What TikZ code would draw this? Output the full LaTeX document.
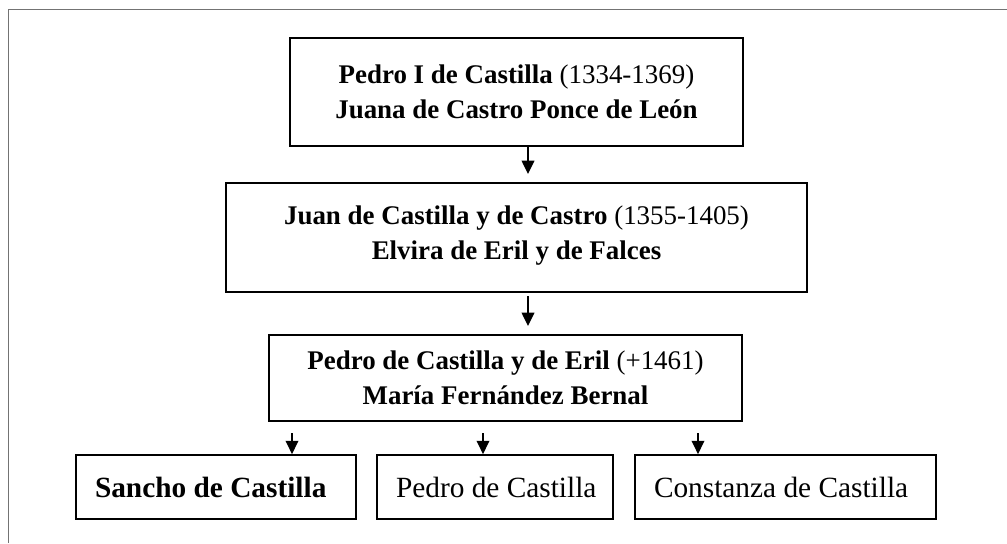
\documentclass[tikz,border=0pt]{standalone}
\usepackage{fontspec}
\setmainfont{Liberation Serif}
\usetikzlibrary{arrows.meta}
\begin{document}
\begin{tikzpicture}[x=0.75pt,y=-0.75pt,
  box/.style={draw=black, line width=1.3pt, inner sep=0pt, align=center,
    font=\fontsize{20.2}{26.3}\selectfont},
  leafbox/.style={box, inner xsep=14.25pt, minimum height=48pt,
    font=\fontsize{22}{26.3}\selectfont},
  arr/.style={line width=1.1pt, -{Triangle[width=9.5pt,length=10pt]}},
  frame/.style={draw=black!55, line width=1pt}]
\useasboundingbox (0,0) rectangle (1007,543);
\draw[frame] (8.5,543) -- (8.5,9.5) -- (1007,9.5);

\node[box, minimum width=339.75pt, minimum height=81pt] (b1) at (516.5,92)
  {\textbf{Pedro I de Castilla} (1334-1369)\\ \textbf{Juana de Castro Ponce de León}};
\node[box, minimum width=435.75pt, minimum height=81.75pt] (b2) at (516.5,237.5)
  {\textbf{Juan de Castilla y de Castro} (1355-1405)\\ \textbf{Elvira de Eril y de Falces}\\[-19pt]\mbox{}};
\node[box, minimum width=354.75pt, minimum height=64.5pt] (b3) at (505.5,378)
  {\textbf{Pedro de Castilla y de Eril} (+1461)\\ \textbf{María Fernández Bernal}};

\node[leafbox] (c1) at (216,487) {\makebox[181.5pt][l]{\textbf{Sancho de Castilla}}};
\node[leafbox] (c2) at (495,487) {\makebox[148.5pt][l]{Pedro de Castilla}};
\node[leafbox] (c3) at (785.5,487) {\makebox[197.25pt][l]{Constanza de Castilla}};

\coordinate (a1s) at (528,146);
\coordinate (a1e) at (528,174);
\coordinate (a2s) at (528,296);
\coordinate (a2e) at (528,326);
\coordinate (a3s) at (292,433);
\coordinate (a3e) at (292,454);
\coordinate (a4s) at (483,433);
\coordinate (a4e) at (483,454);
\coordinate (a5s) at (698,433);
\coordinate (a5e) at (698,454);

\draw[arr] (b1.south -| a1s) -- (a1e);
\draw[arr] (a2s) -- (a2e);
\draw[arr] (a3s) -- (c1.north -| a3e);
\draw[arr] (a4s) -- (c2.north -| a4e);
\draw[arr] (a5s) -- (c3.north -| a5e);
\end{tikzpicture}
\end{document}
